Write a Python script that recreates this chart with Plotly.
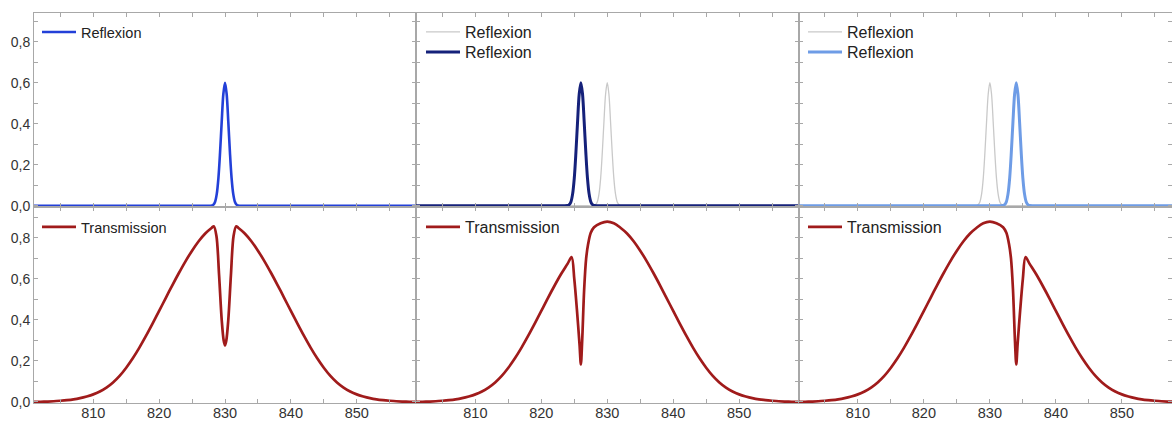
import plotly.graph_objects as go

# ---------------- data ----------------
# Reflexion peak at 830 nm (panel 1, and grey reference in panels 2 and 3)
refl_830_x = [801, 827, 828, 828.25, 828.5, 828.75, 829, 829.25, 829.5, 829.75, 830,
              830.25, 830.5, 830.75, 831, 831.25, 831.5, 831.75, 832, 833, 859]
refl_830_y = [0, 0, 0.001, 0.006, 0.02, 0.058, 0.135, 0.26, 0.41, 0.545, 0.6,
              0.545, 0.41, 0.26, 0.135, 0.058, 0.02, 0.006, 0.001, 0, 0]
# Reflexion peak at 826 nm (panel 2)
refl_826_x = [801, 823, 824, 824.25, 824.5, 824.75, 825, 825.25, 825.5, 825.75, 826,
              826.25, 826.5, 826.75, 827, 827.25, 827.5, 827.75, 828, 829, 859]
refl_826_y = [0, 0, 0.001, 0.006, 0.02, 0.058, 0.135, 0.26, 0.41, 0.545, 0.6,
              0.545, 0.41, 0.26, 0.135, 0.058, 0.02, 0.006, 0.001, 0, 0]
# Reflexion peak at 834 nm (panel 3)
refl_834_x = [801, 831, 832, 832.25, 832.5, 832.75, 833, 833.25, 833.5, 833.75, 834,
              834.25, 834.5, 834.75, 835, 835.25, 835.5, 835.75, 836, 837, 859]
refl_834_y = [0, 0, 0.001, 0.006, 0.02, 0.058, 0.135, 0.26, 0.41, 0.545, 0.6,
              0.545, 0.41, 0.26, 0.135, 0.058, 0.02, 0.006, 0.001, 0, 0]

# Transmission, panel 1 (dip at 830 nm)
trans1_x = [801, 802, 803, 804, 805, 806, 807, 808, 809, 810, 811, 812, 813, 814, 815,
            816, 817, 818, 819, 820, 821, 822, 823, 824, 825, 826, 827, 828,
            828.3, 828.7, 829.1, 829.5, 829.8, 830, 830.2, 830.5, 830.9, 831.3, 831.7,
            832, 833, 834, 835, 836, 837, 838, 839, 840, 841, 842, 843, 844, 845,
            846, 847, 848, 849, 850, 851, 852, 853, 854, 855, 856, 857, 858, 859]
trans1_y = [0.0005, 0.001, 0.002, 0.0035, 0.006, 0.009, 0.013, 0.019, 0.027, 0.037, 0.051,
            0.070, 0.095, 0.127, 0.167, 0.213, 0.265, 0.322, 0.382, 0.444, 0.507, 0.569,
            0.629, 0.686, 0.738, 0.784, 0.822, 0.850,
            0.857, 0.81, 0.62, 0.40, 0.30, 0.276, 0.30, 0.40, 0.62, 0.81, 0.857,
            0.850, 0.822, 0.784, 0.738, 0.686, 0.629, 0.569, 0.507, 0.444, 0.382, 0.322,
            0.265, 0.213, 0.167, 0.127, 0.095, 0.070, 0.051, 0.037, 0.027, 0.019, 0.013,
            0.009, 0.006, 0.0035, 0.002, 0.001, 0.0005]

# Transmission, panel 2 (dip at 826 nm)
trans2_x = [801, 802, 803, 804, 805, 806, 807, 808, 809, 810, 811, 812, 813, 814, 815,
            816, 817, 818, 819, 820, 821, 822, 823, 824, 824.6, 825.0, 825.4, 825.8,
            826.0, 826.2, 826.5, 826.8, 827.1, 827.5, 828, 829, 830, 831, 832, 833,
            834, 835, 836, 837, 838, 839, 840, 841, 842, 843, 844, 845, 846, 847, 848,
            849, 850, 851, 852, 853, 854, 855, 856, 857, 858, 859]
trans2_y = [0.0005, 0.001, 0.002, 0.0035, 0.006, 0.009, 0.013, 0.019, 0.027, 0.037, 0.051,
            0.070, 0.095, 0.127, 0.167, 0.213, 0.265, 0.322, 0.382, 0.444, 0.507, 0.567,
            0.624, 0.675, 0.707, 0.60, 0.45, 0.28,
            0.183, 0.30, 0.55, 0.70, 0.77, 0.825, 0.852, 0.872, 0.880, 0.872, 0.850, 0.822,
            0.784, 0.738, 0.686, 0.629, 0.569, 0.507, 0.444, 0.382, 0.322, 0.265, 0.213,
            0.167, 0.127, 0.095, 0.070, 0.051, 0.037, 0.027, 0.019, 0.013, 0.009, 0.006,
            0.0035, 0.002, 0.001, 0.0005]

# Transmission, panel 3 (dip at 834 nm)
trans3_x = [801, 802, 803, 804, 805, 806, 807, 808, 809, 810, 811, 812, 813, 814, 815,
            816, 817, 818, 819, 820, 821, 822, 823, 824, 825, 826, 827, 828, 829, 830,
            831, 832, 832.5, 832.9, 833.2, 833.5, 833.8, 834.0, 834.2, 834.6, 835.0,
            835.4, 836, 837, 838, 839, 840, 841, 842, 843, 844, 845, 846, 847, 848,
            849, 850, 851, 852, 853, 854, 855, 856, 857, 858, 859]
trans3_y = [0.0005, 0.001, 0.002, 0.0035, 0.006, 0.009, 0.013, 0.019, 0.027, 0.037, 0.051,
            0.070, 0.095, 0.127, 0.167, 0.213, 0.265, 0.322, 0.382, 0.444, 0.507, 0.569,
            0.629, 0.686, 0.738, 0.784, 0.822, 0.850, 0.872, 0.880,
            0.872, 0.852, 0.825, 0.77, 0.70, 0.55, 0.30, 0.183, 0.28, 0.45, 0.60,
            0.707, 0.675, 0.624, 0.567, 0.507, 0.444, 0.382, 0.322, 0.265, 0.213,
            0.167, 0.127, 0.095, 0.070, 0.051, 0.037, 0.027, 0.019, 0.013, 0.009, 0.006,
            0.0035, 0.002, 0.001, 0.0005]

x_tick_vals = [805, 810, 815, 820, 825, 830, 835, 840, 845, 850, 855]
x_tick_text = ["", "810", "", "820", "", "830", "", "840", "", "850", ""]
y_tick_vals = [0, 0.1, 0.2, 0.3, 0.4, 0.5, 0.6, 0.7, 0.8, 0.9]
y_tick_text = ["0,0", "", "0,2", "", "0,4", "", "0,6", "", "0,8", ""]

# ---------------- styling ----------------
FONT = "Liberation Sans, Arial, sans-serif"
FRAME = "#a8a8a8"
TEXT = "#333333"
RED = "#a01b1b"
GREY = "#c9c9c9"

W, H = 1172, 421
ML, MR, MT, MB = 34, 0, 13, 18
PW, PH = W - ML - MR, H - MT - MB

def px_x(X):
    return (X - ML) / PW

def px_y(Y):
    return 1 - (Y - MT) / PH

xdom = [[0, px_x(416)], [px_x(416), px_x(798.5)], [px_x(798.5), 1]]
xrng = [[801, 859], [801, 859], [801, 857.6]]
ydom_top = [px_y(207), 1]
ydom_bot = [0, px_y(207)]

fig = go.Figure()

def line(x, y, color, width, ax, name, legend):
    fig.add_trace(go.Scatter(
        x=x, y=y, mode="lines", name=name,
        line=dict(color=color, width=width, shape="spline", smoothing=0.9),
        xaxis="x%d" % ax if ax > 1 else "x", yaxis="y%d" % ax if ax > 1 else "y",
        legend=legend, showlegend=True, hoverinfo="skip"))

# panel 1
line(refl_830_x, refl_830_y, "#2340d8", 2.6, 1, "Reflexion", "legend")
line(trans1_x, trans1_y, RED, 2.7, 4, "Transmission", "legend2")
# panel 2
line(refl_830_x, refl_830_y, GREY, 1.3, 2, "Reflexion", "legend3")
line(refl_826_x, refl_826_y, "#15217a", 3.0, 2, "Reflexion", "legend4")
line(trans2_x, trans2_y, RED, 2.7, 5, "Transmission", "legend5")
# panel 3
line(refl_830_x, refl_830_y, GREY, 1.3, 3, "Reflexion", "legend6")
line(refl_834_x, refl_834_y, "#6e9ce6", 3.0, 3, "Reflexion", "legend7")
line(trans3_x, trans3_y, RED, 2.7, 6, "Transmission", "legend8")

layout = dict(
    width=W, height=H,
    margin=dict(l=ML, r=MR, t=MT, b=MB, pad=0, autoexpand=False),
    paper_bgcolor="white", plot_bgcolor="white",
    font=dict(family=FONT, color=TEXT, size=14),
)

for i in range(6):
    col = i % 3
    top = i < 3
    n = i + 1
    xk = "xaxis" if n == 1 else "xaxis%d" % n
    yk = "yaxis" if n == 1 else "yaxis%d" % n
    layout[xk] = dict(
        domain=xdom[col], range=xrng[col], anchor="y" if n == 1 else "y%d" % n,
        automargin=False,
        showgrid=False, zeroline=False, showline=True, linecolor=FRAME, linewidth=1,
        mirror="ticks", ticks="inside", ticklen=4, tickcolor=FRAME, tickwidth=1,
        tickmode="array", tickvals=x_tick_vals, ticktext=x_tick_text,
        showticklabels=not top, tickfont=dict(size=14.5, color=TEXT, family=FONT),
        ticklabelstandoff=-3,
    )
    layout[yk] = dict(
        domain=ydom_top if top else ydom_bot,
        range=[-0.006, 0.940] if top else [-0.005, 0.951],
        anchor="x" if n == 1 else "x%d" % n,
        automargin=False,
        showgrid=False, zeroline=False, showline=True, linecolor=FRAME, linewidth=1,
        mirror="ticks", ticks="inside", ticklen=4, tickcolor=FRAME, tickwidth=1,
        tickmode="array", tickvals=y_tick_vals, ticktext=y_tick_text,
        showticklabels=(col == 0), tickfont=dict(size=14, color=TEXT, family=FONT),
    )

def legend_at(X, Y, size):
    return dict(x=px_x(X), y=px_y(Y), xref="paper", yref="paper",
                xanchor="left", yanchor="top", bgcolor="rgba(0,0,0,0)",
                borderwidth=0, font=dict(size=size, color="#222222", family=FONT),
                tracegroupgap=0, itemclick=False, itemwidth=34)

layout["legend"] = legend_at(37, 16, 14.5)
layout["legend2"] = legend_at(37, 211, 14.5)
layout["legend3"] = legend_at(421, 15, 16)
layout["legend4"] = legend_at(421, 35, 16)
layout["legend5"] = legend_at(421, 210, 16)
layout["legend6"] = legend_at(803, 15, 16)
layout["legend7"] = legend_at(803, 35, 16)
layout["legend8"] = legend_at(803, 210, 16)

fig.update_layout(**layout)
fig.write_html(
    "out.html",
    config={"displayModeBar": False},
    post_script="document.body.style.margin='0';document.body.style.overflow='hidden';"
                "document.documentElement.style.overflow='hidden';",
)
